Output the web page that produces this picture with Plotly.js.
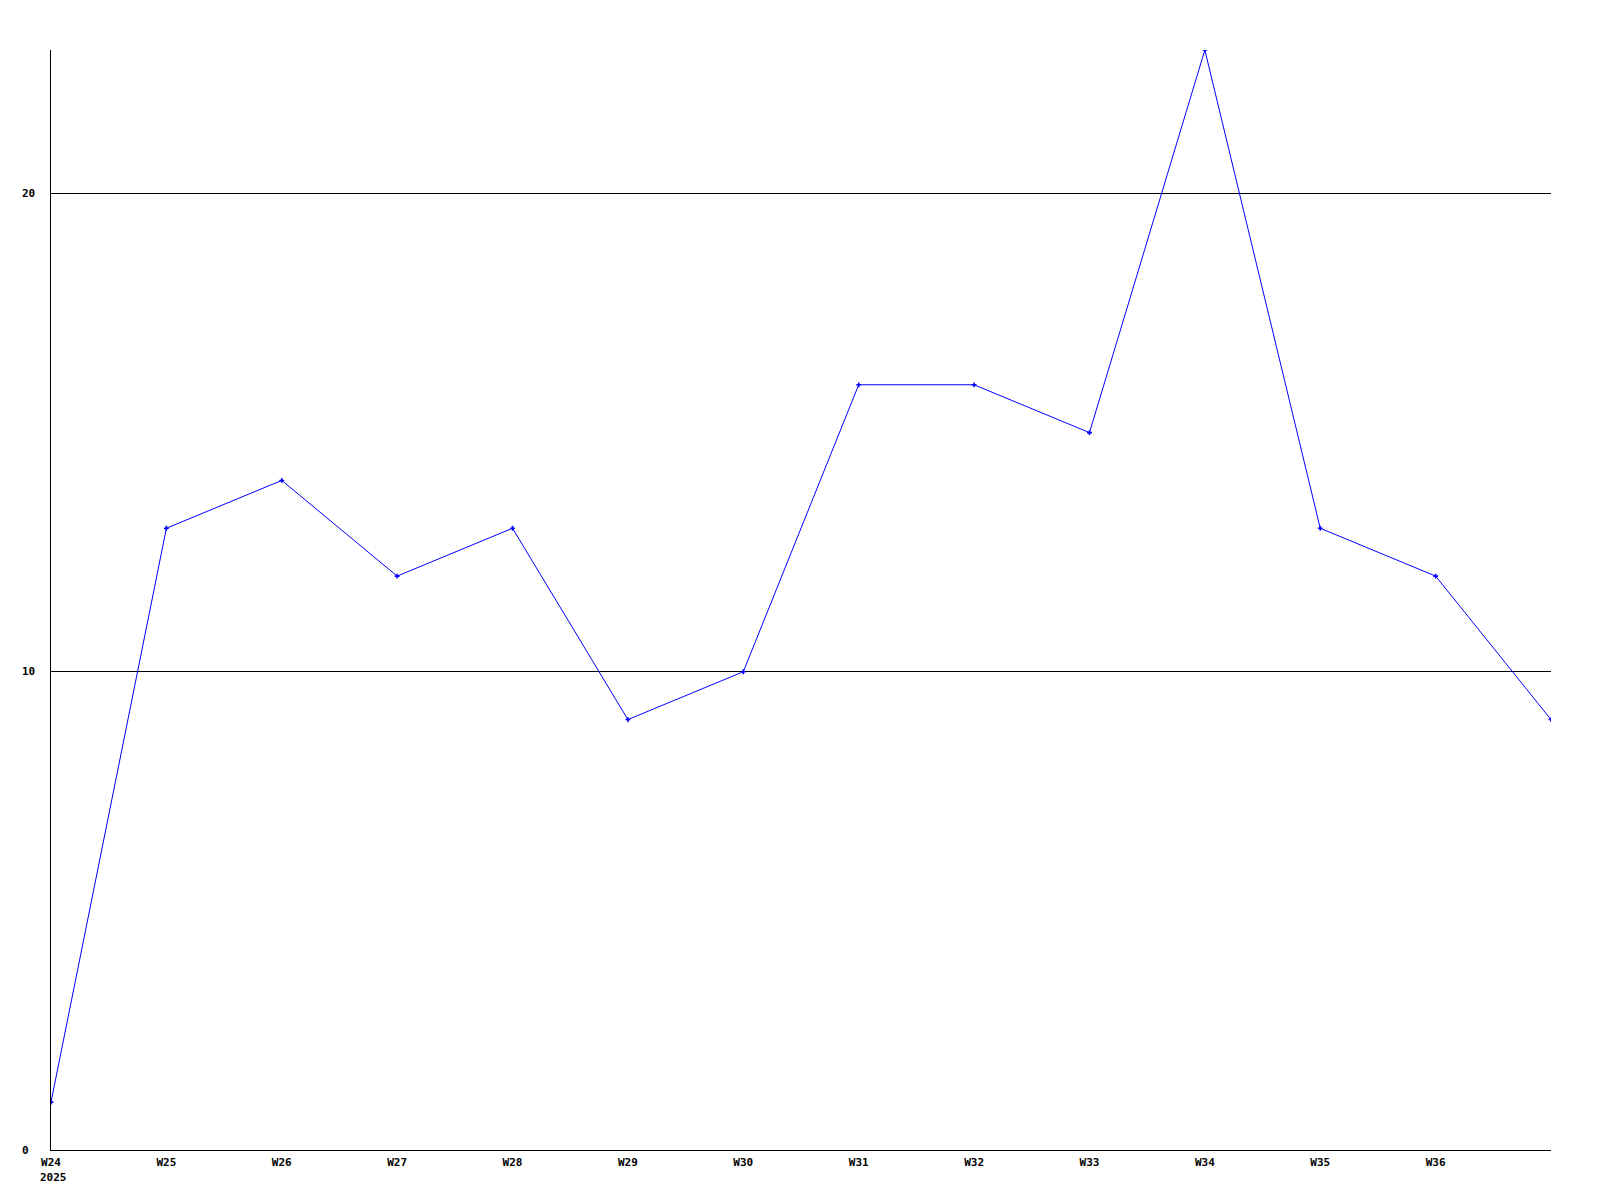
<!DOCTYPE html>
<html><head><meta charset="utf-8">
<script src="https://cdn.plot.ly/plotly-3.0.1.min.js"></script>
<style>body{margin:0;background:#fff}#c{width:1600px;height:1200px}</style>
</head><body><div id="c"></div>
<script>
const weeks = ["W24","W25","W26","W27","W28","W29","W30","W31","W32","W33","W34","W35","W36","W37"];
const values = [1,13,14,12,13,9,10,16,16,15,23,13,12,9];
const tickLabels = ["W24","W25","W26","W27","W28","W29","W30","W31","W32","W33","W34","W35","W36"];
const yearLabel = "2025";
const yTicks = [0,10,20];

const idx = weeks.map((w,i)=>i);
const font = {family:"DejaVu Sans Mono, monospace", size:11, color:"#000"};
const ann = yTicks.map(v=>({xref:"paper",yref:"y",x:-31/1500,y:v,xanchor:"left",yanchor:"middle",
  text:"<b>"+v+"</b>",showarrow:false,font:font}));
ann.push({xref:"x",yref:"paper",x:0,y:0,xanchor:"left",yanchor:"top",xshift:-13,yshift:-19,
  text:"<b>"+yearLabel+"</b>",showarrow:false,font:font});

Plotly.newPlot("c",[{
  x: idx, y: values, type:"scatter", mode:"lines+markers",
  line:{color:"#0000ff",width:1},
  marker:{symbol:"cross",size:4,color:"#0000ff"},
  hoverinfo:"none"
}],{
  width:1600,height:1200,
  margin:{l:51,r:49,t:50,b:50},
  paper_bgcolor:"#fff",plot_bgcolor:"#fff",
  showlegend:false,
  font:font,
  xaxis:{range:[0,13],tickvals:idx.slice(0,tickLabels.length),ticktext:tickLabels.map(t=>"<b>"+t+"</b>"),
    showgrid:false,zeroline:false,showline:true,linecolor:"#000",linewidth:1,ticks:"",
    tickfont:font,ticklabelstandoff:2},
  yaxis:{range:[0,23],tickvals:[10,20],showticklabels:false,showgrid:true,gridcolor:"#000",gridwidth:1,
    zeroline:false,showline:true,linecolor:"#000",linewidth:1,ticks:""},
  annotations:ann
},{staticPlot:true});
</script></body></html>
